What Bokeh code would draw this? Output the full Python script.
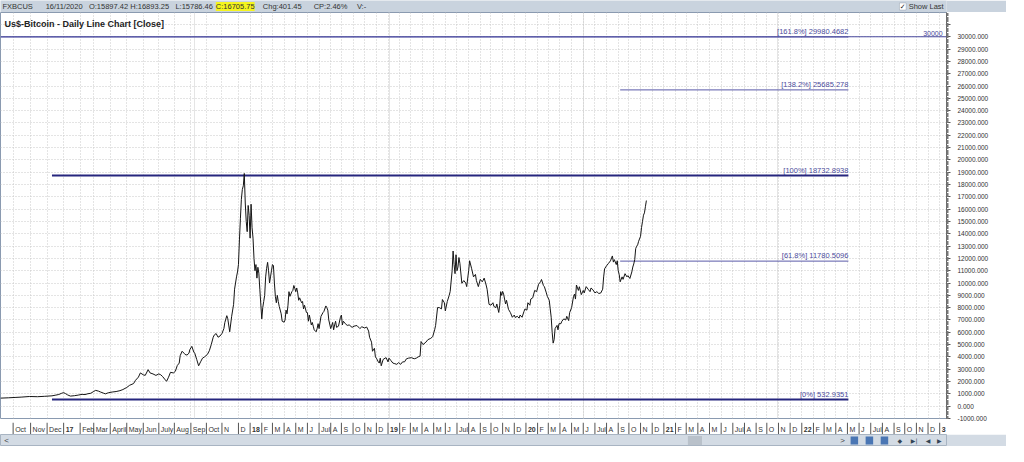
from bokeh.plotting import figure
from bokeh.layouts import column
from bokeh.models import (Range1d, FixedTicker, SingleIntervalTicker, Grid, Label,
                          BoxAnnotation, Span, ColumnDataSource, PrintfTickFormatter)
from bokeh.embed import file_html
from bokeh.resources import INLINE
from bokeh.core.properties import value, field

FONT = "Liberation Sans"

# ---- price data: (bar index on the chart's time axis, daily close in US$) ----
price_points = [
    (0, 654), (8, 680), (15, 710), (22, 740), (30, 787), (38, 770), (45, 800), (53, 840),
    (57, 900), (60, 950), (63, 1050), (65, 1100), (67, 1020), (69, 920), (72, 820), (76, 850),
    (80, 900), (84, 960), (87, 945), (90, 1010), (93, 1050), (96, 1200), (98, 1285), (101, 1220),
    (103, 1150), (106, 1060), (108, 1000), (111, 1090), (115, 1150), (119, 1190), (123, 1260),
    (126, 1350), (130, 1520), (133, 1700), (137, 1835), (139, 2100), (142, 2360), (144, 2700),
    (147, 2550), (149, 2500), (152, 2965), (154, 2700), (157, 2620), (160, 2500), (163, 2620),
    (165, 2550), (167, 2400), (169, 2200), (171, 2020), (173, 2350), (175, 2750), (178, 2700),
    (180, 2830), (182, 3300), (184, 3500), (185, 4100), (187, 4460), (189, 4300), (190, 4200),
    (192, 4150), (194, 4300), (195, 4600), (197, 4860), (199, 4400), (200, 4300), (202, 3800),
    (204, 3280), (206, 3600), (208, 3900), (210, 4000), (213, 4200), (215, 4500), (217, 5000),
    (219, 5600), (220, 5770), (222, 5900), (224, 5600), (226, 5700), (228, 5900), (230, 6300),
    (231, 6800), (233, 7350), (234, 7100), (236, 6040), (238, 7300), (240, 8270), (241, 9500),
    (243, 10500), (244, 10900), (245, 11500), (246, 13500), (247, 15220), (248, 16800),
    (249, 17600), (250, 17900), (251, 18900), (252, 16500), (253, 15000), (254, 14170),
    (255, 16300), (256, 15500), (257, 13650), (258, 16400), (259, 14500), (260, 13650),
    (261, 12000), (262, 11000), (263, 11500), (264, 10400), (265, 11280), (266, 10800),
    (267, 9500), (268, 8300), (269, 7090), (270, 8000), (271, 8500), (272, 9000), (273, 10500),
    (274, 11200), (275, 11680), (276, 11000), (277, 10000), (278, 10500), (279, 11000),
    (280, 11500), (281, 11420), (282, 10000), (283, 8920), (284, 8400), (285, 9000), (286, 8500),
    (287, 8100), (289, 7500), (290, 6900), (292, 6820), (293, 7000), (294, 7800), (295, 7500),
    (296, 8200), (297, 9300), (298, 8920), (300, 9300), (301, 9400), (302, 9800), (303, 9580),
    (304, 9300), (305, 9600), (306, 9200), (307, 8600), (308, 8800), (310, 8400), (311, 8500),
    (312, 7900), (313, 8200), (315, 7610), (316, 7600), (317, 6900), (318, 7400), (320, 6600),
    (321, 6800), (322, 6500), (323, 6200), (325, 6040), (326, 6300), (327, 6700), (328, 6300),
    (330, 7300), (332, 7600), (333, 7700), (335, 8140), (336, 8000), (337, 7800), (338, 7000),
    (340, 6300), (342, 6800), (343, 6200), (344, 6600), (345, 6900), (346, 6400), (348, 6500),
    (350, 7220), (351, 7400), (352, 6600), (353, 6900), (355, 6700), (357, 6560), (359, 6600),
    (362, 6400), (364, 6500), (367, 6550), (370, 6300), (372, 6450), (375, 6350), (377, 6430),
    (379, 6100), (380, 5600), (382, 5200), (383, 4460), (385, 4700), (386, 4000), (387, 3900),
    (389, 3600), (390, 3500), (391, 3900), (392, 3280), (394, 3800), (396, 3900), (397, 3940),
    (399, 3600), (400, 3900), (402, 3700), (404, 3500), (406, 3450), (408, 3400), (410, 3540),
    (412, 3400), (414, 3600), (416, 3600), (418, 3850), (420, 3900), (423, 3940), (426, 3850),
    (428, 3900), (430, 4000), (432, 4070), (433, 5250), (435, 5000), (438, 5200), (440, 5400),
    (443, 5510), (445, 5650), (447, 6200), (448, 6560), (450, 8010), (452, 8000), (454, 7900),
    (455, 8660), (457, 8400), (458, 7740), (460, 8500), (462, 9000), (463, 9320), (465, 11000),
    (466, 12600), (467, 11500), (468, 10760), (469, 12300), (470, 11000), (471, 11300),
    (472, 12070), (473, 11600), (475, 9980), (477, 10200), (479, 10000), (480, 9710),
    (482, 11000), (483, 11810), (485, 11200), (487, 10500), (489, 10700), (490, 10200),
    (492, 9710), (494, 10300), (496, 10100), (497, 10240), (498, 10400), (500, 9840), (501, 9500),
    (503, 8270), (505, 8200), (507, 8400), (508, 8100), (510, 8000), (511, 8300), (513, 7610),
    (514, 8200), (515, 9300), (516, 9000), (517, 9320), (518, 9100), (520, 8300), (521, 8600),
    (523, 7870), (525, 7600), (527, 7220), (529, 7400), (530, 7200), (532, 7300), (534, 7150),
    (535, 7400), (537, 7220), (539, 7700), (540, 7900), (542, 7800), (543, 8400), (545, 8200),
    (546, 8700), (548, 8800), (550, 9400), (552, 9300), (554, 9900), (556, 10100), (557, 10290),
    (559, 9800), (560, 9700), (562, 9200), (563, 8920), (565, 8600), (566, 7900), (567, 7220),
    (568, 6000), (569, 5120), (570, 5400), (571, 6300), (573, 6560), (574, 6200), (575, 6700),
    (577, 6700), (578, 6900), (580, 7090), (582, 7000), (583, 7300), (585, 6950), (586, 7600),
    (588, 8000), (590, 8920), (591, 9100), (592, 8700), (593, 9840), (595, 9400), (596, 9700),
    (598, 9060), (600, 9400), (601, 9200), (603, 9710), (605, 9500), (607, 9300), (608, 9600),
    (610, 9450), (612, 9200), (614, 9300), (616, 9150), (618, 9190), (620, 9500), (621, 10500),
    (622, 11160), (624, 11400), (626, 11600), (628, 11800), (630, 12200), (631, 11700),
    (632, 11900), (634, 11500), (635, 11810), (636, 11000), (637, 10700), (638, 10100),
    (640, 10500), (641, 10300), (643, 10760), (645, 10500), (646, 10600), (648, 10370),
    (650, 10900), (651, 11300), (652, 11550), (653, 11900), (654, 12800), (655, 12990),
    (656, 13100), (657, 13390), (659, 13800), (660, 14500), (661, 15000), (662, 15510),
    (663, 15700), (664, 16200), (665, 16700),
]
bar_index = [b for b, _ in price_points]
close_price = [c for _, c in price_points]

# ---- time axis ticks ----
month_tick_bars = [13, 31, 48,
                   65, 82, 96, 113, 130, 147, 163, 179, 196, 212, 228, 245,
                   257, 269, 280, 292, 304, 316, 328, 340, 351, 363, 375, 387,
                   399, 411, 422, 434, 446, 458, 470, 482, 494, 505, 517, 529,
                   541, 553, 564, 576, 588, 600, 612, 624, 636, 647, 659, 671,
                   683, 695, 706, 718, 730, 742, 754, 766, 778, 789, 801, 813,
                   825, 837, 848, 860, 872, 884, 896, 908, 920, 931, 943, 955,
                   967]
short_months = ["F", "M", "A", "M", "J", "Jul", "A", "S", "O", "N", "D"]
month_labels = (["Oct", "Nov", "Dec"]
                + ["17", "Feb", "Mar", "April", "May", "Jun", "July", "Aug", "Sep", "Oct", "N", "D"]
                + ["18"] + short_months + ["19"] + short_months + ["20"] + short_months
                + ["21"] + short_months + ["22"] + short_months + ["3"])
year_labels = {"17", "18", "19", "20", "21", "22", "3"}
month_styles = ["bold" if l in year_labels else "normal" for l in month_labels]

# ---- Fibonacci levels ----
fib_levels = [29980.4682, 25685.278, 18732.8938, 11780.5096, 532.9351]
fib_texts = ["[161.8%] 29980.4682", "[138.2%] 25685.278", "[100%] 18732.8938",
             "[61.8%] 11780.5096", "[0%] 532.9351"]
fib_start_bar = [0, 638, 53, 638, 53]
fib_end_bar = [873, 873, 873, 873, 873]
fib_widths = [1, 1, 2, 1, 2]
fib_colors = ["#5a5aa8", "#5a5aa8", "#26267e", "#5a5aa8", "#26267e"]
round_level = 30000

FRAME_W = 946
RIGHT = 60
W = FRAME_W + RIGHT

# ---------------- top info bar ----------------
top = figure(width=W, height=12, x_range=Range1d(0, W), y_range=Range1d(0, 12),
             x_axis_location=None, y_axis_location=None, output_backend="svg",
             toolbar_location=None, min_border=0, outline_line_color=None,
             background_fill_color="#c9d3de", border_fill_color="#c9d3de")
top.grid.visible = False
info = [("FXBCUS", 2), ("16/11/2020", 48), ("O:15897.42", 94), ("H:16893.25", 138),
        ("L:15786.46", 186), ("C:16705.75", 229), ("Chg:401.45", 279), ("CP:2.46%", 333),
        ("V:-", 379)]
for txt, xx in info:
    kw = {}
    if txt.startswith("C:"):
        kw = dict(background_fill_color="#f5f51e")
    top.add_layout(Label(x=xx, y=6, text=txt, text_font=FONT, text_font_size="7.5px",
                         text_color="#333333", text_baseline="middle", **kw))
top.add_layout(BoxAnnotation(left=956, right=963, bottom=2.5, top=9.5, fill_color="white",
                             fill_alpha=1, line_color="#6a7a8a", line_width=1))
top.add_layout(Label(x=959.5, y=6, text="✓", text_font="DejaVu Sans", text_font_size="7px",
                     text_color="#222222", text_baseline="middle", text_align="center"))
top.add_layout(Label(x=W - 3, y=6, text="Show Last", text_font=FONT, text_font_size="7.5px",
                     text_color="#333333", text_baseline="middle", text_align="right"))

# ---------------- main chart ----------------
p = figure(frame_width=FRAME_W, frame_height=406, x_range=Range1d(0, 974),
           y_range=Range1d(-1000, 31970),
           x_axis_location=None, y_axis_location="right", output_backend="svg",
           toolbar_location=None, min_border_left=0, min_border_right=RIGHT,
           min_border_top=0, min_border_bottom=4, outline_line_color="#8a9ab0",
           background_fill_color="white", border_fill_color="white")

yax = p.yaxis[0]
yax.ticker = SingleIntervalTicker(interval=1000, num_minor_ticks=10)
yax.formatter = PrintfTickFormatter(format="%.3f")
yax.major_label_overrides = {31000: ""}
yax.major_label_text_font = FONT
yax.major_label_text_font_size = "6.5px"
yax.major_label_text_color = "#333333"
yax.axis_line_color = "#666666"
yax.major_tick_line_color = "#555555"
yax.minor_tick_line_color = "#777777"
yax.major_tick_out = 4
yax.major_tick_in = 0
yax.minor_tick_out = 2
yax.minor_tick_in = 0
yax.major_label_standoff = 7

p.ygrid.grid_line_color = "#c8c8c8"
p.ygrid.grid_line_dash = "1 2"
p.add_layout(Grid(dimension=0, ticker=FixedTicker(ticks=month_tick_bars),
                  grid_line_color="#c8c8c8", grid_line_dash="1 2"), "center")

# round number line at 30000
p.add_layout(Span(location=round_level, dimension="width", line_color="#4a4a9e", line_width=1))
p.text(x=[970], y=[round_level], text=[str(round_level)], text_align="right",
       text_baseline="bottom", y_offset=-1, text_font=value(FONT), text_font_size="7px",
       text_color="#4b4b9b")

fib_src = ColumnDataSource(dict(x0=fib_start_bar, x1=fib_end_bar, y=fib_levels,
                                w=fib_widths, c=fib_colors, t=fib_texts))
p.segment(x0="x0", y0="y", x1="x1", y1="y", line_width="w", line_color="c", source=fib_src)
p.text(x="x1", y="y", text="t", source=fib_src, text_align="right", text_baseline="bottom",
       y_offset=-1, text_font=value(FONT), text_font_size="7.5px", text_color="#4b4b9b")

p.line(bar_index, close_price, line_color="#151515", line_width=1)

p.add_layout(Label(x=4, y=31970, y_offset=-11, text="Us$-Bitcoin - Daily Line Chart [Close]",
                   text_font=FONT, text_font_size="9px", text_font_style="bold",
                   text_color="#222222", text_baseline="middle"))

# ---------------- bottom time axis ----------------
ax = figure(frame_width=FRAME_W, frame_height=12, x_range=p.x_range, y_range=Range1d(0, 1),
            x_axis_location=None, y_axis_location=None, output_backend="svg",
            toolbar_location=None, min_border_left=0, min_border_right=RIGHT,
            min_border_top=0, min_border_bottom=0, outline_line_color=None,
            background_fill_color="white", border_fill_color="white")
ax.grid.visible = False
tick_src = ColumnDataSource(dict(x=month_tick_bars, lab=month_labels, st=month_styles))
ax.segment(x0="x", y0=0, x1="x", y1=1, source=tick_src, line_color="#555555", line_width=1)
ax.text(x="x", y=0.45, text="lab", source=tick_src, x_offset=2, text_baseline="middle",
        text_align="left", text_font=value(FONT), text_font_size="7px",
        text_font_style=field("st"), text_color="#333333")

# ---------------- scroll bar ----------------
sb = figure(width=W, height=12, x_range=Range1d(0, W), y_range=Range1d(0, 12),
            x_axis_location=None, y_axis_location=None, output_backend="svg",
            toolbar_location=None, min_border=0, outline_line_color="#a8b4c2",
            background_fill_color="#d3dbe4", border_fill_color="#d3dbe4")
sb.grid.visible = False
sb.add_layout(Label(x=4, y=6, text="<", text_font=FONT, text_font_size="8px",
                    text_color="#444444", text_baseline="middle"))
sb.add_layout(BoxAnnotation(left=731, right=746, bottom=1.5, top=10.5, fill_color="#b9c1ca",
                            fill_alpha=1, line_color=None))
sb.add_layout(Label(x=893, y=6, text=">", text_font=FONT, text_font_size="8px",
                    text_color="#444444", text_baseline="middle"))
for lx in [904, 920, 936]:
    sb.add_layout(BoxAnnotation(left=lx, right=lx + 8, bottom=2, top=10, fill_color="#4a76b4",
                                fill_alpha=1, line_color=None))
for lx, glyph in [(954, "◆"), (968, "▶|"), (984, "◀"), (996, "▶")]:
    sb.add_layout(Label(x=lx, y=6, text=glyph, text_font="DejaVu Sans", text_font_size="6px",
                        text_color="#334455", text_baseline="middle"))

layout = column(top, p, ax, sb, spacing=0)
open("out.html", "w").write(file_html(layout, INLINE))
